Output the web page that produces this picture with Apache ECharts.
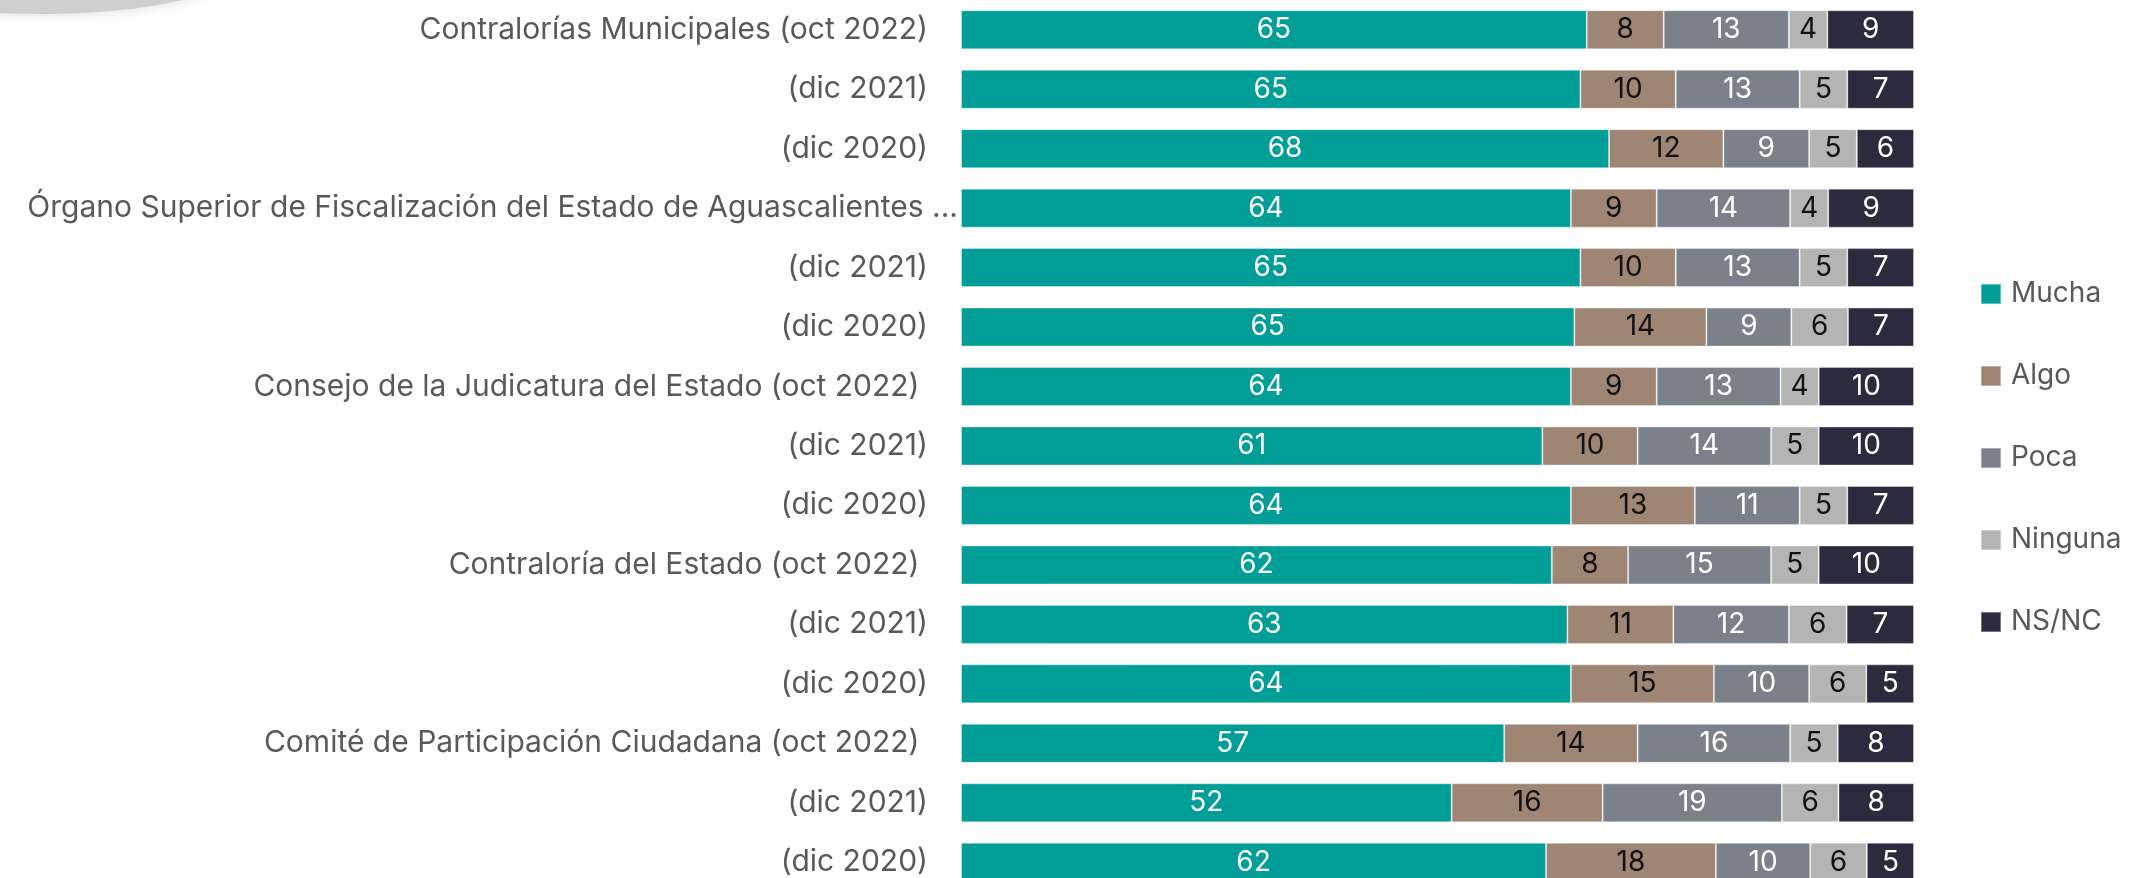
<!DOCTYPE html>
<html>
<head>
<meta charset="utf-8">
<script src="https://cdn.jsdelivr.net/npm/echarts@6/dist/echarts.min.js"></script>
<style>
  html, body { margin: 0; padding: 0; background: #fff; }
  #chart { width: 2131px; height: 878px; }
</style>
</head>
<body>
<div id="chart"></div>
<script>
var categories = [
  'Contralorías Municipales (oct 2022)',
  '(dic 2021)',
  '(dic 2020)',
  'Órgano Superior de Fiscalización del Estado de Aguascalientes (oct 2022)',
  '(dic 2021)',
  '(dic 2020)',
  'Consejo de la Judicatura del Estado (oct 2022) ',
  '(dic 2021)',
  '(dic 2020)',
  'Contraloría del Estado (oct 2022) ',
  '(dic 2021)',
  '(dic 2020)',
  'Comité de Participación Ciudadana (oct 2022) ',
  '(dic 2021)',
  '(dic 2020)'
]
var seriesNames = ['Mucha', 'Algo', 'Poca', 'Ninguna', 'NS/NC']
var mucha   = [65, 65, 68, 64, 65, 65, 64, 61, 64, 62, 63, 64, 57, 52, 62]
var algo    = [8, 10, 12, 9, 10, 14, 9, 10, 13, 8, 11, 15, 14, 16, 18]
var poca    = [13, 13, 9, 14, 13, 9, 13, 14, 11, 15, 12, 10, 16, 19, 10]
var ninguna = [4, 5, 5, 4, 5, 6, 4, 5, 5, 5, 6, 6, 5, 6, 6]
var nsnc    = [9, 7, 6, 9, 7, 7, 10, 10, 7, 10, 7, 5, 8, 8, 5]

var colors = ['#009E97', '#9E8574', '#7B818B', '#B4B4B4', '#2B2B3D']
var labelColors = ['#fff', '#111', '#fff', '#111', '#fff']
var fontFamily = 'Inter'

var allValues = [mucha, algo, poca, ninguna, nsnc]

// each row is drawn as 100%, labels keep the original value
var rowTotals = categories.map(function (c, i) {
  var sum = 0
  allValues.forEach(function (arr) { sum += arr[i] })
  return sum
})

var series = allValues.map(function (arr, k) {
  return {
    name: seriesNames[k],
    type: 'bar',
    stack: 'total',
    barWidth: 39,
    itemStyle: {
      color: colors[k],
      borderColor: 'rgba(255,255,255,0.35)',
      borderWidth: 1
    },
    label: {
      show: true,
      position: 'inside',
      color: labelColors[k],
      fontFamily: fontFamily,
      fontSize: 28,
      formatter: function (p) { return arr[p.dataIndex] }
    },
    data: arr.map(function (v, i) { return v / rowTotals[i] * 100 })
  }
})

var myChart = echarts.init(document.getElementById('chart'))
var option = {
  animation: false,
  backgroundColor: '#fff',
  graphic: [{
    type: 'ellipse',
    shape: { cx: 40, cy: -28, rx: 190, ry: 42 },
    style: {
      fill: '#cfcfcf',
      shadowBlur: 12,
      shadowColor: 'rgba(0,0,0,0.15)'
    }
  }],
  grid: {
    left: 961,
    top: 0,
    width: 953,
    height: 892,
    containLabel: false,
    outerBoundsMode: 'none'
  },
  legend: {
    orient: 'vertical',
    left: 1975,
    top: 275,
    icon: 'rect',
    itemWidth: 20,
    itemHeight: 20,
    itemGap: 54,
    data: seriesNames,
    textStyle: {
      fontFamily: fontFamily,
      fontSize: 28,
      lineHeight: 20,
      color: '#595959',
      padding: [0, 0, 0, 5]
    }
  },
  xAxis: {
    type: 'value',
    min: 0,
    max: 100,
    show: false
  },
  yAxis: {
    type: 'category',
    inverse: true,
    data: categories,
    axisLine: { show: false },
    axisTick: { show: false },
    axisLabel: {
      margin: 3,
      fontFamily: fontFamily,
      fontSize: 30,
      color: '#595959',
      width: 945,
      overflow: 'truncate',
      formatter: function (v) {
        if (v.indexOf('Órgano') === 0) return v
        return '{n|' + v + '}'
      },
      rich: {
        n: {
          fontFamily: fontFamily,
          fontSize: 30,
          color: '#595959',
          padding: [0, 30, 0, 0]
        }
      }
    }
  },
  series: series
}
myChart.setOption(option)
</script>
</body>
</html>
